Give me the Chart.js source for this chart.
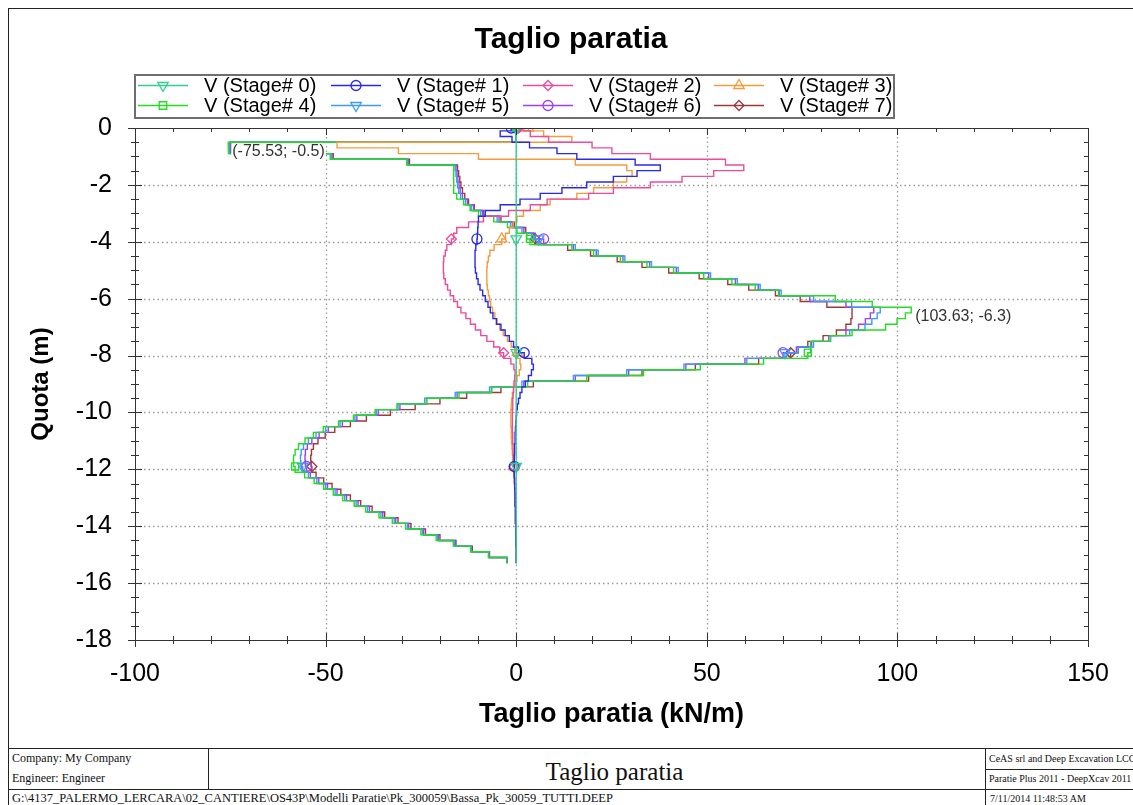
<!DOCTYPE html>
<html>
<head>
<meta charset="utf-8">
<title>Taglio paratia</title>
<script src="https://cdn.jsdelivr.net/npm/chart.js@4.4.1/dist/chart.umd.min.js"></script>
<style>
  html, body { margin: 0; padding: 0; background: #fff; }
  body { width: 1133px; height: 805px; position: relative; overflow: hidden; font-family: "Liberation Serif", "Times New Roman", serif; color: #111; }
  #frame { position: absolute; left: 8px; top: 8px; width: 1140px; height: 820px; border: 1px solid #222; box-sizing: border-box; }
  #wrap { position: absolute; left: 9px; top: 9px; width: 1124px; height: 739px; }
  .hl { position: absolute; height: 1px; background: #222; }
  .vl { position: absolute; width: 1px; background: #222; }
  .ft { position: absolute; white-space: nowrap; line-height: 1; }
</style>
</head>
<body>
<div id="frame"></div>
<div id="wrap"><canvas id="chart" width="1124" height="739"></canvas></div>

<!-- title block -->
<div class="hl" style="left:8px; top:748px; width:1130px;"></div>
<div class="hl" style="left:8px; top:789px; width:1130px;"></div>
<div class="hl" style="left:985px; top:769px; width:150px;"></div>
<div class="vl" style="left:208px; top:748px; height:41px;"></div>
<div class="vl" style="left:985px; top:748px; height:60px;"></div>
<div class="ft" style="left:12px; top:752px; font-size:12px;">Company: My Company</div>
<div class="ft" style="left:12px; top:772px; font-size:12px;">Engineer: Engineer</div>
<div class="ft" style="left:226px; width:777px; top:759px; font-size:25px; text-align:center;">Taglio paratia</div>
<div class="ft" style="left:989px; top:754px; font-size:10px;">CeAS srl and Deep Excavation LCC</div>
<div class="ft" style="left:989px; top:774px; font-size:10px;">Paratie Plus 2011 - DeepXcav 2011</div>
<div class="ft" style="left:12px; top:792px; font-size:12.5px;">G:\4137_PALERMO_LERCARA\02_CANTIERE\OS43P\Modelli Paratie\Pk_300059\Bassa_Pk_30059_TUTTI.DEEP</div>
<div class="ft" style="left:990px; top:794px; font-size:10px;">7/11/2014 11:48:53 AM</div>

<script>
// wall nodes (m): top of each element, last entry is the toe
const depth = [
  0, -0.1, -0.3, -0.5, -0.7, -0.9, -1.1, -1.3, -1.5, -1.7,
  -1.9, -2.1, -2.3, -2.5, -2.7, -2.9, -3.1, -3.3, -3.5, -3.7,
  -3.9, -4.1, -4.3, -4.5, -4.7, -4.9, -5.1, -5.3, -5.5, -5.7,
  -5.9, -6.1, -6.3, -6.5, -6.7, -6.9, -7.1, -7.3, -7.5, -7.7,
  -7.9, -8.1, -8.3, -8.5, -8.7, -8.9, -9.1, -9.3, -9.5, -9.7,
  -9.9, -10.1, -10.3, -10.5, -10.7, -10.9, -11.1, -11.3, -11.5, -11.7,
  -11.9, -12.1, -12.3, -12.5, -12.7, -12.9, -13.1, -13.3, -13.5, -13.7,
  -13.9, -14.1, -14.3, -14.5, -14.7, -14.9, -15.1, -15.3
];

// shear V (kN/m) per element, one list per stage
const stage0 = [
  0, 0, 0, 0, 0, 0, 0, 0, 0, 0,
  0, 0, 0, 0, 0, 0, 0, 0, 0, 0,
  0, 0, 0, 0, 0, 0, 0, 0, 0, 0,
  0, 0, 0, 0, 0, 0, 0, 0, 0, 0,
  0, 0, 0, 0, 0, 0, 0, 0, 0, 0,
  0, 0, 0, 0, 0, 0, 0, 0, 0, 0,
  0, 0, 0, 0, 0, 0, 0, 0, 0, 0,
  0, 0, 0, 0, 0, 0, 0, 0
];
const stage1 = [
  -1.3, -4.2, -1.1, 3.5, 10.7, 15.9, 31.2, 37.8, 31.7, 25.5,
  18.5, 12.0, 6.3, 1.0, -4.2, -8.1, -9.9, -10.0, -10.1, -10.2,
  -10.3, -10.6, -10.8, -10.8, -10.8, -10.7, -10.4, -10.0, -9.5, -8.8,
  -8.1, -7.4, -6.8, -6.1, -5.2, -4.0, -2.9, -1.8, -0.7, 0.6,
  2.1, 4.1, 4.5, 4.0, 3.2, 2.4, 1.5, 1.0, 0.6, 0.3,
  0.1, 0.0, -0.1, -0.2, -0.3, -0.3, -0.4, -0.4, -0.5, -0.5,
  -0.5, -0.5, -0.4, -0.4, -0.3, -0.3, -0.3, -0.2, -0.2, -0.2,
  -0.1, -0.1, -0.1, -0.1, 0.0, 0.0, 0.0, 0.0
];
const stage2 = [
  0.6, 3.7, 8.5, 19.9, 25.1, 35.2, 54.9, 59.7, 51.8, 43.5,
  35.2, 25.5, 19.0, 8.1, 3.7, -2.0, -8.6, -12.5, -15.6, -16.4,
  -17.0, -18.2, -18.6, -19.0, -19.1, -19.1, -19.0, -18.6, -18.0, -17.3,
  -16.4, -15.4, -14.5, -13.2, -12.0, -10.7, -9.3, -7.7, -5.9, -4.3,
  -3.3, -1.4, -0.6, -0.3, -0.4, -0.6, -0.7, -0.8, -0.9, -0.9,
  -1.0, -1.0, -1.0, -1.0, -0.9, -0.9, -0.8, -0.8, -0.7, -0.7,
  -0.6, -0.5, -0.5, -0.4, -0.4, -0.3, -0.3, -0.2, -0.2, -0.2,
  -0.1, -0.1, -0.1, -0.1, 0.0, 0.0, 0.0, 0.0
];
const stage3 = [
  3.2, 7.2, 14.6, -47.0, -30.9, -9.9, 15.5, 29.0, 30.4, 29.0,
  25.5, 20.3, 15.9, 8.9, 6.3, 1.9, 0.2, -0.8, -1.8, -2.8,
  -3.8, -5.8, -6.9, -7.3, -7.6, -7.7, -7.7, -7.7, -7.6, -7.3,
  -7.0, -6.7, -6.2, -5.6, -5.0, -4.3, -3.4, -2.3, -1.3, -0.4,
  0.3, 1.0, 1.2, 0.8, 0.2, -0.3, -0.7, -1.0, -1.2, -1.3,
  -1.4, -1.4, -1.4, -1.3, -1.3, -1.2, -1.1, -1.0, -0.9, -0.8,
  -0.7, -0.6, -0.5, -0.4, -0.4, -0.3, -0.3, -0.2, -0.2, -0.2,
  -0.1, -0.1, -0.1, 0.0, 0.0, 0.0, 0.0, 0.0
];
const stage4 = [
  0, 0, 0, -75.53, -75.5, -48.8, -28.7, -16.4, -16.4, -16.4,
  -16.4, -16.4, -15.6, -13.8, -12.1, -9.9, -5.9, -2.3, 0.2, 2.8,
  3.6, 14.6, 20.3, 27.3, 34.3, 41.3, 49.2, 56.6, 62.7, 68.8,
  83.7, 93.4, 103.63, 102.1, 99.9, 96.9, 88.1, 82.4, 77.2, 77.2,
  76.5, 64.9, 48.3, 33.4, 18.5, 3.0, -6.4, -15.0, -23.5, -31.3,
  -37.0, -42.7, -46.6, -50.6, -53.2, -55.4, -57.1, -58.0, -58.4, -58.4,
  -58.0, -55.5, -53.0, -50.5, -48.0, -45.5, -42.5, -39.5, -36.0, -32.5,
  -29.0, -25.0, -21.0, -16.5, -12.0, -7.3, -2.5, -2.5
];
const stage5 = [
  0, 0, 0, -75.2, -75.2, -48.5, -28.5, -16.0, -15.8, -15.6,
  -15.4, -15.1, -14.6, -13.3, -11.8, -9.3, -5.0, -1.5, 1.5, 4.0,
  5.9, 15.5, 21.5, 28.5, 35.5, 42.5, 51.0, 58.0, 64.0, 69.5,
  78.0, 88.0, 95.5, 94.7, 93.3, 91.5, 87.5, 82.5, 78.0, 74.0,
  70.5, 60.5, 44.0, 29.0, 15.0, 1.5, -7.0, -16.0, -24.0, -31.0,
  -36.7, -42.3, -46.2, -50.0, -52.5, -54.5, -55.8, -56.4, -56.6, -56.5,
  -56.0, -54.5, -52.3, -50.0, -47.5, -45.0, -42.0, -39.0, -35.5, -32.0,
  -28.5, -24.6, -20.6, -16.2, -11.8, -7.2, -2.5, -2.5
];
const stage6 = [
  0, 0, 0, -75.0, -75.0, -48.3, -28.3, -15.8, -15.5, -15.3,
  -15.0, -14.7, -14.1, -12.8, -11.2, -8.8, -4.5, -1.0, 2.0, 5.0,
  7.2, 15.0, 21.0, 28.0, 35.0, 42.0, 50.5, 57.5, 63.5, 69.0,
  77.0, 86.5, 93.8, 92.9, 91.6, 89.8, 86.5, 82.0, 77.5, 73.5,
  70.0, 60.0, 44.5, 29.5, 15.5, 2.0, -6.5, -15.5, -23.5, -30.5,
  -36.2, -41.8, -45.6, -49.3, -51.7, -53.6, -54.8, -55.3, -55.4, -55.3,
  -55.0, -54.0, -51.8, -49.5, -47.0, -44.5, -41.5, -38.5, -35.0, -31.6,
  -28.2, -24.3, -20.4, -16.0, -11.7, -7.1, -2.4, -2.4
];
const stage7 = [
  0, 0, 0, -74.6, -74.6, -48.0, -28.0, -15.4, -15.1, -14.8,
  -14.5, -14.1, -13.5, -12.5, -11.0, -8.5, -4.0, -0.5, 2.5, 4.5,
  5.0, 13.5, 19.5, 26.5, 33.0, 40.0, 48.0, 55.5, 61.0, 68.0,
  74.5, 81.5, 88.1, 88.1, 87.8, 86.5, 84.0, 80.5, 76.5, 74.0,
  72.0, 63.6, 47.0, 33.0, 19.0, 4.5, -4.0, -13.0, -20.0, -26.5,
  -33.0, -39.3, -43.5, -47.6, -50.1, -52.0, -53.2, -53.7, -53.9, -53.8,
  -53.6, -52.5, -50.5, -48.3, -46.0, -43.5, -40.8, -37.8, -34.5, -31.0,
  -27.6, -23.8, -20.0, -15.8, -11.5, -7.0, -2.4, -2.4
];

const stageNames = ['V (Stage# 0)', 'V (Stage# 1)', 'V (Stage# 2)', 'V (Stage# 3)',
                    'V (Stage# 4)', 'V (Stage# 5)', 'V (Stage# 6)', 'V (Stage# 7)'];
const stageValues = [stage0, stage1, stage2, stage3, stage4, stage5, stage6, stage7];

// styling
const stageColors = ['#30cf90', '#2a2ae6', '#ec4c9c', '#f39c3c', '#22dd22', '#3d9bf5', '#9b40f2', '#9c3a3a'];
const stageMarkers = [
  { style: 'triangle', rot: 180 }, { style: 'circle', rot: 0 }, { style: 'rectRot', rot: 0 }, { style: 'triangle', rot: 0 },
  { style: 'rect', rot: 0 }, { style: 'triangle', rot: 180 }, { style: 'circle', rot: 0 }, { style: 'rectRot', rot: 0 }
];
const FONT = '"Liberation Sans", Arial, sans-serif';
const MARK_EVERY = 20;

function markerRadius(style) {
  return style === 'triangle' ? 6 : 5;
}

const datasets = stageValues.map((vals, s) => ({
  label: stageNames[s],
  data: vals.map((v, i) => ({ x: v, y: depth[i] })),
  showLine: true,
  stepped: 'after',
  fill: false,
  borderColor: stageColors[s],
  borderWidth: 1.4,
  pointStyle: stageMarkers[s].style,
  pointRotation: stageMarkers[s].rot,
  pointRadius: ctx => (ctx.dataIndex % MARK_EVERY === 0 && ctx.dataIndex < depth.length - 1) ? markerRadius(stageMarkers[s].style) : 0,
  pointBorderColor: stageColors[s],
  pointBackgroundColor: 'rgba(255,255,255,0)',
  pointBorderWidth: 1.3
}));

// small open marker for the legend
function drawMarker(ctx, style, rot, x, y, r) {
  ctx.beginPath();
  if (style === 'circle') {
    ctx.arc(x, y, r, 0, Math.PI * 2);
  } else if (style === 'rect') {
    ctx.rect(x - r * 0.75, y - r * 0.75, r * 1.5, r * 1.5);
  } else if (style === 'rectRot') {
    ctx.moveTo(x, y - r); ctx.lineTo(x + r, y); ctx.lineTo(x, y + r); ctx.lineTo(x - r, y); ctx.closePath();
  } else {
    const d = rot ? -1 : 1;
    ctx.moveTo(x, y - d * r);
    ctx.lineTo(x + r * 0.87, y + d * r * 0.5);
    ctx.lineTo(x - r * 0.87, y + d * r * 0.5);
    ctx.closePath();
  }
  ctx.stroke();
}

function valueTag(ctx, text, px, py) {
  ctx.font = '16px ' + FONT;
  const w = ctx.measureText(text).width;
  ctx.fillStyle = '#fff';
  ctx.fillRect(px + 3, py + 1, w + 2, 16);
  ctx.fillStyle = '#333';
  ctx.textAlign = 'left';
  ctx.textBaseline = 'middle';
  ctx.fillText(text, px + 4, py + 9);
}

const decor = {
  id: 'decor',
  beforeDatasetsDraw(chart) {
    const { ctx, chartArea: a, scales: { x, y } } = chart;
    ctx.save();
    ctx.strokeStyle = '#9a9a9a';
    ctx.lineWidth = 1.3;
    ctx.setLineDash([1.5, 3]);
    x.ticks.forEach(t => {
      if (t.value <= x.min || t.value >= x.max) return;
      const px = Math.round(x.getPixelForValue(t.value)) + 0.5;
      ctx.beginPath(); ctx.moveTo(px, a.top); ctx.lineTo(px, a.bottom); ctx.stroke();
    });
    y.ticks.forEach(t => {
      if (t.value <= y.min || t.value >= y.max) return;
      const py = Math.round(y.getPixelForValue(t.value)) + 0.5;
      ctx.beginPath(); ctx.moveTo(a.left, py); ctx.lineTo(a.right, py); ctx.stroke();
    });
    ctx.restore();
  },
  afterDatasetsDraw(chart) {
    const { ctx, chartArea: a, scales: { x, y } } = chart;
    ctx.save();
    ctx.strokeStyle = '#333';
    ctx.lineWidth = 1;
    ctx.strokeRect(Math.round(a.left) + 0.5, Math.round(a.top) + 0.5, Math.round(a.right - a.left), Math.round(a.bottom - a.top));
    ctx.beginPath();
    // x ticks: major every 50, minor every 10
    for (let v = x.min; v <= x.max; v += 10) {
      const px = Math.round(x.getPixelForValue(v)) + 0.5;
      const len = v % 50 === 0 ? 7 : 4;
      ctx.moveTo(px, a.bottom - len); ctx.lineTo(px, a.bottom + len);
      ctx.moveTo(px, a.top); ctx.lineTo(px, a.top + len);
    }
    // y ticks: major every 2, minor every 0.5
    for (let v = y.max; v >= y.min; v -= 0.5) {
      const py = Math.round(y.getPixelForValue(v)) + 0.5;
      const len = v % 2 === 0 ? 7 : 4;
      ctx.moveTo(a.left - len, py); ctx.lineTo(a.left + len, py);
      ctx.moveTo(a.right - len, py); ctx.lineTo(a.right, py);
    }
    ctx.stroke();

    // extreme values of stage 4
    const iMin = stage4.indexOf(Math.min(...stage4));
    const iMax = stage4.indexOf(Math.max(...stage4));
    [iMin, iMax].forEach(i => {
      valueTag(ctx, '(' + stage4[i].toFixed(2) + '; ' + depth[i] + ')',
        x.getPixelForValue(stage4[i]), y.getPixelForValue(depth[i]));
    });
    ctx.restore();
  },
  afterDraw(chart) {
    const { ctx } = chart;
    ctx.save();
    // title
    ctx.fillStyle = '#000';
    ctx.font = 'bold 30px ' + FONT;
    ctx.textAlign = 'center';
    ctx.textBaseline = 'middle';
    ctx.fillText('Taglio paratia', chart.width / 2, 31);

    // legend box, 4 columns x 2 rows
    const box = { left: 126, top: 66, right: 885, bottom: 109 };
    ctx.fillStyle = '#fff';
    ctx.fillRect(box.left, box.top, box.right - box.left, box.bottom - box.top);
    ctx.strokeStyle = '#6e6e6e';
    ctx.lineWidth = 2;
    ctx.strokeRect(box.left, box.top, box.right - box.left, box.bottom - box.top);
    const colX = [129, 322, 514, 705];
    const rowY = [76.5, 96.5];
    ctx.font = '20px ' + FONT;
    ctx.textAlign = 'left';
    ctx.textBaseline = 'middle';
    datasets.forEach((ds, i) => {
      const x0 = colX[i % 4], yc = rowY[Math.floor(i / 4)];
      ctx.strokeStyle = ds.borderColor;
      ctx.lineWidth = 1.4;
      ctx.beginPath(); ctx.moveTo(x0, yc); ctx.lineTo(x0 + 50, yc); ctx.stroke();
      ctx.lineWidth = 1.3;
      drawMarker(ctx, stageMarkers[i].style, stageMarkers[i].rot, x0 + 25, yc, markerRadius(stageMarkers[i].style));
      ctx.fillStyle = '#000';
      ctx.fillText(ds.label, x0 + 66, yc + 1);
    });
    ctx.restore();
  }
};

new Chart(document.getElementById('chart'), {
  type: 'scatter',
  data: { datasets },
  options: {
    responsive: false,
    animation: false,
    events: [],
    layout: { padding: { top: 119, right: 45, left: 0, bottom: 0 } },
    plugins: { legend: { display: false }, title: { display: false }, tooltip: { enabled: false } },
    scales: {
      x: {
        type: 'linear', position: 'bottom', min: -100, max: 150,
        ticks: { stepSize: 50, autoSkip: false, maxRotation: 0, padding: 19, color: '#000', font: { family: FONT, size: 25 } },
        grid: { display: false, drawTicks: false },
        border: { display: false },
        title: { display: true, text: 'Taglio paratia (kN/m)', color: '#000', font: { family: FONT, size: 27, weight: 'bold' }, padding: { top: 0, bottom: 17 } },
        afterFit: s => { s.height = 108; }
      },
      y: {
        type: 'linear', position: 'left', min: -18, max: 0,
        ticks: { stepSize: 2, autoSkip: false, padding: 23, color: '#000', font: { family: FONT, size: 25 } },
        grid: { display: false, drawTicks: false },
        border: { display: false },
        title: { display: true, text: 'Quota (m)', color: '#000', font: { family: FONT, size: 24, weight: 'bold' }, padding: { top: 18, bottom: 0 } },
        afterFit: s => { s.width = 126; }
      }
    }
  },
  plugins: [decor]
});
</script>
</body>
</html>
